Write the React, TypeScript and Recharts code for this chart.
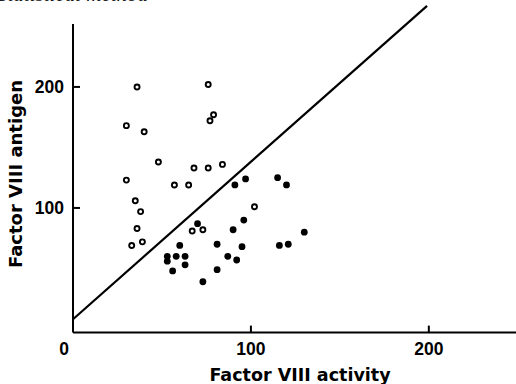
import { ScatterChart, Scatter, XAxis, YAxis, ReferenceLine } from 'recharts';

// Factor VIII activity (x) vs Factor VIII antigen (y)
const openPoints = [
  { activity: 36, antigen: 200 },
  { activity: 76, antigen: 202 },
  { activity: 79, antigen: 177 },
  { activity: 77, antigen: 172 },
  { activity: 30, antigen: 168 },
  { activity: 40, antigen: 163 },
  { activity: 48, antigen: 138 },
  { activity: 68, antigen: 133 },
  { activity: 76, antigen: 133 },
  { activity: 84, antigen: 136 },
  { activity: 30, antigen: 123 },
  { activity: 57, antigen: 119 },
  { activity: 65, antigen: 119 },
  { activity: 35, antigen: 106 },
  { activity: 38, antigen: 97 },
  { activity: 36, antigen: 83 },
  { activity: 39, antigen: 72 },
  { activity: 33, antigen: 69 },
  { activity: 67, antigen: 81 },
  { activity: 73, antigen: 82 },
  { activity: 102, antigen: 101 },
];

const filledPoints = [
  { activity: 91, antigen: 119 },
  { activity: 97, antigen: 124 },
  { activity: 115, antigen: 125 },
  { activity: 120, antigen: 119 },
  { activity: 70, antigen: 87 },
  { activity: 96, antigen: 90 },
  { activity: 90, antigen: 82 },
  { activity: 130, antigen: 80 },
  { activity: 60, antigen: 69 },
  { activity: 81, antigen: 70 },
  { activity: 95, antigen: 68 },
  { activity: 116, antigen: 69 },
  { activity: 121, antigen: 70 },
  { activity: 53, antigen: 60 },
  { activity: 53, antigen: 56 },
  { activity: 58, antigen: 60 },
  { activity: 63, antigen: 60 },
  { activity: 63, antigen: 53 },
  { activity: 87, antigen: 60 },
  { activity: 92, antigen: 57 },
  { activity: 56, antigen: 48 },
  { activity: 81, antigen: 49 },
  { activity: 73, antigen: 39 },
];

// fitted line end points
const lineActivity = [0, 199];
const lineAntigen = [8, 267];

const xTicks = [0, 100, 200];
const yTicks = [100, 200];

const INK = '#000';
const TICK_FONT = 'Liberation Sans, Arial, sans-serif';
const LABEL_FONT = 'DejaVu Sans, sans-serif';

const OpenDot = (p: any) => (
  <circle cx={p.cx} cy={p.cy} r={2.5} fill="#fff" stroke={INK} strokeWidth={1.9} />
);
const FilledDot = (p: any) => <circle cx={p.cx} cy={p.cy} r={3.4} fill={INK} />;

// ticks point inward, labels sit outside
const XTick = ({ x, y, payload }: any) => (
  <g>
    {payload.value !== 0 && <line x1={x} x2={x} y1={y} y2={y - 7} stroke={INK} strokeWidth={2} />}
    <text
      x={x + (payload.value === 0 ? -9 : 0)}
      y={y + 22.5}
      textAnchor="middle"
      fontFamily={TICK_FONT}
      fontWeight="bold"
      fontSize={17.5}
      fill={INK}
    >
      {payload.value}
    </text>
  </g>
);

const YTick = ({ x, y, payload }: any) => (
  <g>
    <line x1={x} x2={x + 7} y1={y} y2={y} stroke={INK} strokeWidth={2} />
    <text
      x={x - 9}
      y={y + 6.5}
      textAnchor="end"
      fontFamily={TICK_FONT}
      fontWeight="bold"
      fontSize={17.5}
      fill={INK}
    >
      {payload.value}
    </text>
  </g>
);

export default function App() {
  return (
    <div style={{ position: 'absolute', left: 0, top: 0, width: 516, height: 384, background: '#fff', overflow: 'hidden' }}>
      <div style={{
        position: 'absolute', left: -3, top: -18, whiteSpace: 'nowrap',
        fontFamily: 'Liberation Serif, serif', fontStyle: 'italic', fontSize: 21, color: '#111',
      }}>
        Statistical method
      </div>
      <ScatterChart width={516} height={384} margin={{ top: 24, right: 0, bottom: 0, left: 0 }}>
        <XAxis
          type="number"
          dataKey="activity"
          domain={[0, 249]}
          ticks={xTicks}
          height={51.4}
          stroke={INK}
          strokeWidth={2}
          tickLine={false}
          tickSize={0}
          tickMargin={0}
          tick={<XTick />}
          label={{
            content: () => (
              <text x={300} y={381} textAnchor="middle" fontFamily={LABEL_FONT} fontWeight="bold" fontSize={17.5} fill={INK}>
                Factor VIII activity
              </text>
            ),
          }}
        />
        <YAxis
          type="number"
          dataKey="antigen"
          domain={[-3, 252]}
          ticks={yTicks}
          width={73}
          stroke={INK}
          strokeWidth={2}
          tickLine={false}
          tickSize={0}
          tickMargin={0}
          tick={<YTick />}
          label={{
            content: () => (
              <text
                x={15}
                y={174}
                transform="rotate(-90 15 174)"
                textAnchor="middle"
                dominantBaseline="central"
                fontFamily={LABEL_FONT}
                fontWeight="bold"
                fontSize={18}
                fill={INK}
              >
                Factor VIII antigen
              </text>
            ),
          }}
        />
        <ReferenceLine
          segment={[
            { x: lineActivity[0], y: lineAntigen[0] },
            { x: lineActivity[1], y: lineAntigen[1] },
          ]}
          ifOverflow="visible"
          stroke={INK}
          strokeWidth={2.2}
        />
        <Scatter data={openPoints} shape={OpenDot} isAnimationActive={false} />
        <Scatter data={filledPoints} shape={FilledDot} isAnimationActive={false} />
      </ScatterChart>
    </div>
  );
}
